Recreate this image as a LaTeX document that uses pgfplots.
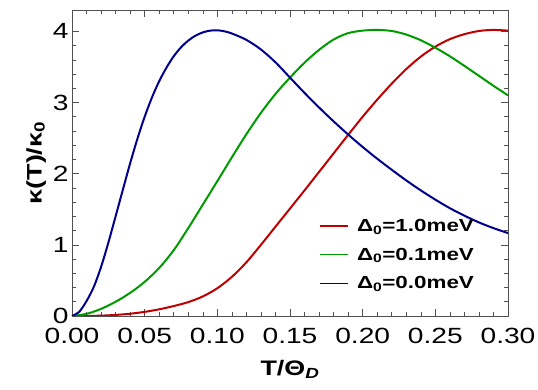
\documentclass[border=0pt]{standalone}
\usepackage{fontspec}
\setmainfont{Liberation Sans}[FakeStretch=1.28]
\usepackage{pgfplots}
\pgfplotsset{compat=1.18}
\definecolor{cred}{RGB}{190,0,0}
\definecolor{cgreen}{RGB}{0,155,0}
\definecolor{cblue}{RGB}{0,0,140}
\definecolor{cframe}{RGB}{80,80,80}

\pgfplotstableread{
x y
0.000 0
0.005 0.06
0.010 0.21
0.015 0.41
0.020 0.69
0.025 1.03
0.030 1.40
0.035 1.775
0.040 2.145
0.045 2.49
0.050 2.80
0.055 3.07
0.060 3.30
0.065 3.49
0.070 3.65
0.075 3.775
0.080 3.87
0.085 3.94
0.090 3.985
0.095 4.01
0.100 4.015
0.105 4.00
0.110 3.97
0.120 3.88
0.130 3.745
0.140 3.565
0.150 3.35
0.160 3.135
0.170 2.93
0.180 2.735
0.190 2.55
0.200 2.375
0.210 2.21
0.220 2.055
0.230 1.905
0.240 1.765
0.250 1.635
0.260 1.515
0.270 1.41
0.280 1.315
0.290 1.235
0.300 1.165
}\tblblue

\pgfplotstableread{
x y
0.00 0
0.01 0.03
0.02 0.10
0.03 0.20
0.04 0.325
0.05 0.48
0.06 0.675
0.07 0.925
0.08 1.235
0.09 1.565
0.10 1.895
0.11 2.23
0.12 2.555
0.13 2.855
0.14 3.12
0.15 3.35
0.16 3.56
0.17 3.74
0.18 3.885
0.19 3.975
0.20 4.01
0.21 4.02
0.22 4.005
0.23 3.955
0.24 3.875
0.25 3.77
0.26 3.65
0.27 3.515
0.28 3.375
0.29 3.235
0.30 3.10
}\tblgreen

\pgfplotstableread{
x y
0.00 0
0.01 0.001
0.02 0.005
0.03 0.015
0.04 0.032
0.05 0.058
0.06 0.094
0.07 0.14
0.08 0.195
0.09 0.275
0.10 0.39
0.11 0.55
0.12 0.755
0.13 1.00
0.14 1.255
0.15 1.51
0.16 1.765
0.17 2.025
0.18 2.285
0.19 2.545
0.20 2.80
0.21 3.04
0.22 3.265
0.23 3.47
0.24 3.645
0.25 3.785
0.26 3.89
0.27 3.96
0.28 4.005
0.29 4.02
0.30 4.01
}\tblred

\begin{document}
\begin{tikzpicture}
\begin{axis}[
  scale only axis, width=436pt, height=306pt,
  xmin=0, xmax=0.3, ymin=0, ymax=4.3,
  xtick={0,0.05,0.1,0.15,0.2,0.25,0.3},
  ytick={0,1,2,3,4},
  minor x tick num=4, minor y tick num=4,
  tick align=inside, xtick pos=both, ytick pos=both,
  major tick length=7pt, minor tick length=4pt,
  axis line style={cframe, line width=0.8pt},
  every tick/.style={cframe, line width=0.6pt},
  every tick label/.append style={font=\fontsize{22}{24}\selectfont},
  /pgf/number format/assume math mode=true,
  xticklabel style={yshift=-9pt, /pgf/number format/.cd, fixed, fixed zerofill, precision=2},
  yticklabel style={/pgf/number format/.cd, fixed, precision=0},
  xlabel={\textbf{T/Θ\textsubscript{\textit{D}}}},
  ylabel={\textbf{κ(T)/κ\textsubscript{0}}},
  xlabel style={yshift=-9pt},
  label style={font=\fontsize{21}{24}\selectfont},
  legend style={draw=none, fill=none, at={(rel axis cs:0.56,0.33)}, anchor=north west,
    font=\fontsize{17.5}{20}\selectfont, row sep=11pt},
  legend cell align=left,
  every axis plot/.append style={line width=2pt, smooth},
]
\addplot[color=cred, forget plot] table {\tblred};
\addplot[color=cgreen, forget plot] table {\tblgreen};
\addplot[color=cblue, forget plot] table {\tblblue};
\addlegendimage{legend image code/.code={\draw[draw=cred, line width=1.4pt] (0pt,0pt) -- (28pt,0pt); \path (34pt,0pt);}}
\addlegendentry{\textbf{Δ\textsubscript{0}=1.0meV}}
\addlegendimage{legend image code/.code={\draw[draw=cgreen, line width=1.4pt] (0pt,0pt) -- (28pt,0pt); \path (34pt,0pt);}}
\addlegendentry{\textbf{Δ\textsubscript{0}=0.1meV}}
\addlegendimage{legend image code/.code={\draw[draw=cblue, line width=1.4pt] (0pt,0pt) -- (28pt,0pt); \path (34pt,0pt);}}
\addlegendentry{\textbf{Δ\textsubscript{0}=0.0meV}}
\coordinate (O) at (rel axis cs:0,0);
\end{axis}
\pgfresetboundingbox
\path[use as bounding box] (O) ++(-72pt,-74pt) rectangle ++(538pt,390pt);
\end{tikzpicture}
\end{document}
